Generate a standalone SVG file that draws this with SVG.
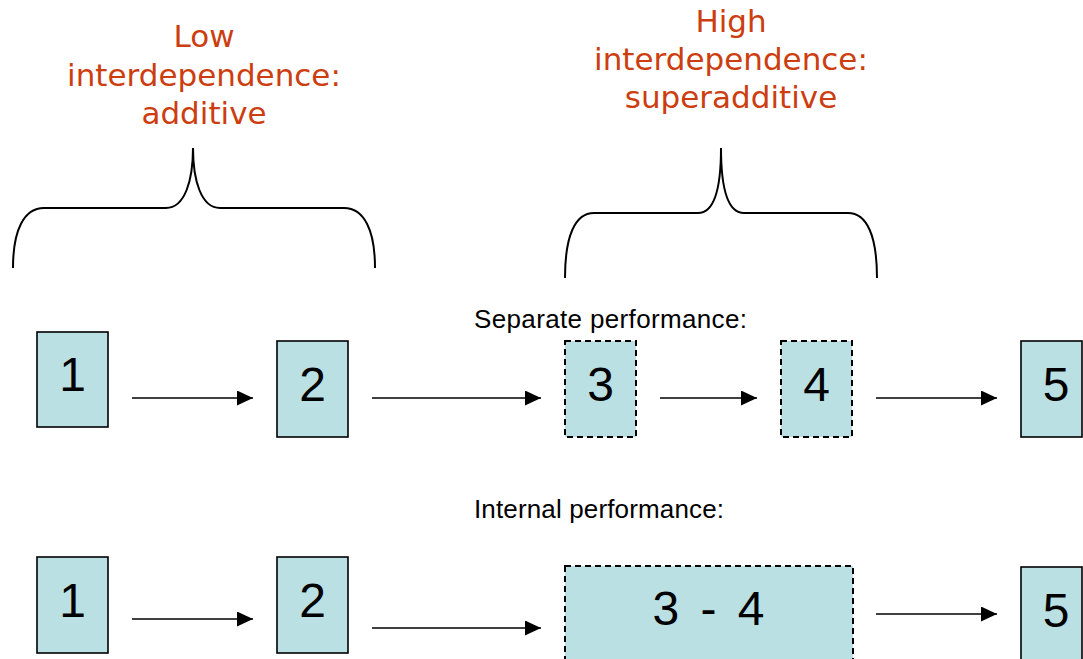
<svg xmlns="http://www.w3.org/2000/svg" width="1083" height="659" viewBox="0 0 1083 659">
<style>
.box{fill:#BBE0E3;stroke:#000;stroke-width:1.6}
.dash{stroke-width:2;stroke-dasharray:6,4}
.num{font-family:"Liberation Sans",Arial,sans-serif;font-size:48px;fill:#000;text-anchor:middle}
.hdr{font-family:"DejaVu Sans",Verdana,sans-serif;font-size:31px;fill:#CC3D0F;text-anchor:middle}
.lbl{font-family:"Liberation Sans",Arial,sans-serif;font-size:26px;fill:#000}
.brace{fill:none;stroke:#000;stroke-width:2}
.conn{stroke:#000;stroke-width:1.6;fill:none;marker-end:url(#arr)}
</style>
<defs>
<marker id="arr" markerUnits="userSpaceOnUse" markerWidth="16" markerHeight="15" refX="16" refY="7.5" orient="auto">
<path d="M0,0 L16,7.5 L0,15 z" fill="#000"/>
</marker>
</defs>
<rect width="1083" height="659" fill="#fff"/>

<g id="label-low">
<text class="hdr" x="204" y="47">Low</text>
<text class="hdr" x="204" y="86">interdependence:</text>
<text class="hdr" x="204" y="124">additive</text>
</g>
<g id="label-high">
<text class="hdr" x="731" y="32">High</text>
<text class="hdr" x="731" y="70">interdependence:</text>
<text class="hdr" x="731" y="108">superadditive</text>
</g>
<g id="brace-low">
<path class="brace" d="M13,268 C13,230 24,208 44,208 L166,208 C185,208 193,180 193,148 C193,180 201,208 220,208 L344,208 C364,208 375,230 375,268"/>
</g>
<g id="brace-high">
<path class="brace" d="M565,278 C565,236 575,213 594,213 L698,213 C715,213 721,185 721,148 C721,185 727,213 744,213 L848,213 C867,213 877,236 877,278"/>
</g>

<g id="label-separate"><text class="lbl" x="474" y="328" textLength="273" lengthAdjust="spacing">Separate performance:</text></g>
<g id="label-internal"><text class="lbl" x="474" y="518" textLength="250" lengthAdjust="spacing">Internal performance:</text></g>

<g id="top-1"><rect class="box" x="37" y="332" width="71" height="95"/><text class="num" x="72.5" y="391">1</text></g>
<g id="top-2"><rect class="box" x="277" y="341" width="71" height="96"/><text class="num" x="312.5" y="401">2</text></g>
<g id="top-3"><rect class="box dash" x="565" y="341" width="71" height="96"/><text class="num" x="600.5" y="401">3</text></g>
<g id="top-4"><rect class="box dash" x="781" y="341" width="71" height="96"/><text class="num" x="816.5" y="401">4</text></g>
<g id="top-5"><rect class="box" x="1021" y="341" width="61" height="96"/><text class="num" x="1056" y="401">5</text></g>

<g id="bot-1"><rect class="box" x="37" y="557" width="71" height="96"/><text class="num" x="72.5" y="617">1</text></g>
<g id="bot-2"><rect class="box" x="277" y="557" width="71" height="96"/><text class="num" x="312.5" y="617">2</text></g>
<g id="bot-34"><rect class="box dash" x="565" y="566" width="288" height="110"/><text class="num" x="708.5" y="625" textLength="112" lengthAdjust="spacing">3 - 4</text></g>
<g id="bot-5"><rect class="box" x="1021" y="567" width="61" height="110"/><text class="num" x="1056" y="627">5</text></g>

<g id="connectors">
<line class="conn" x1="132" y1="398" x2="253" y2="398"/>
<line class="conn" x1="372" y1="398" x2="541" y2="398"/>
<line class="conn" x1="660" y1="398" x2="757" y2="398"/>
<line class="conn" x1="876" y1="398" x2="997" y2="398"/>
<line class="conn" x1="132" y1="619" x2="253" y2="619"/>
<line class="conn" x1="372" y1="628" x2="541" y2="628"/>
<line class="conn" x1="876" y1="614" x2="997" y2="614"/>
</g>
</svg>
